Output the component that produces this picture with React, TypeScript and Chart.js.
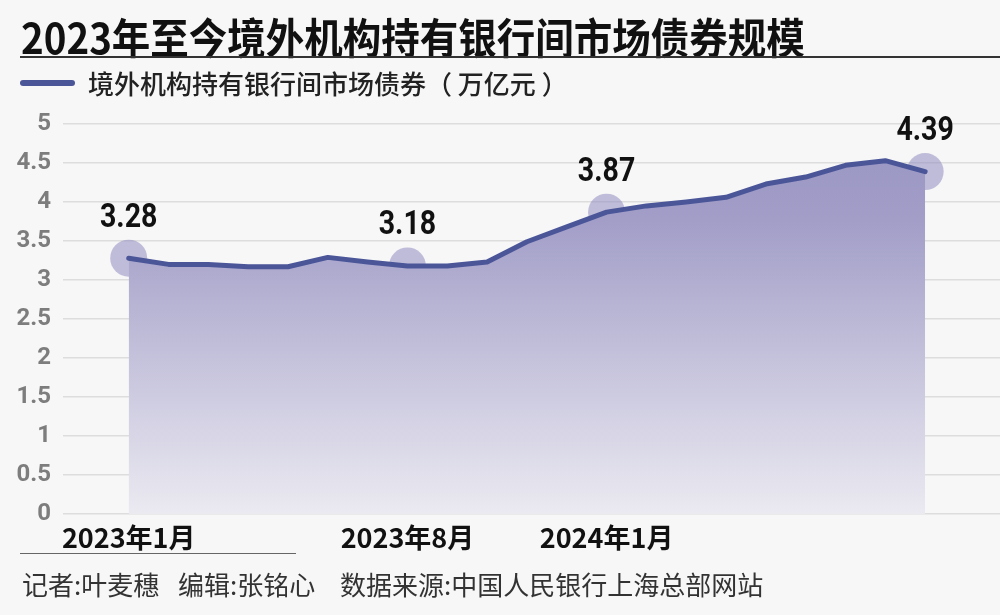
import React, { useEffect, useRef } from "react";
import { Chart, registerables } from "chart.js";

Chart.register(...registerables);

const months: string[] = [
  "2023年1月", "2023年2月", "2023年3月", "2023年4月", "2023年5月", "2023年6月",
  "2023年7月", "2023年8月", "2023年9月", "2023年10月", "2023年11月", "2023年12月",
  "2024年1月", "2024年2月", "2024年3月", "2024年4月", "2024年5月", "2024年6月",
  "2024年7月", "2024年8月", "2024年9月",
];
const holdings: number[] = [
  3.28, 3.2, 3.2, 3.17, 3.17, 3.29, 3.23, 3.18, 3.18, 3.23, 3.49, 3.68,
  3.87, 3.95, 4.0, 4.06, 4.23, 4.32, 4.47, 4.53, 4.39,
];
const tickIndices: number[] = [0, 7, 12];
const highlightIndices: number[] = [0, 7, 12, 20];
const yTicks: number[] = [0, 0.5, 1, 1.5, 2, 2.5, 3, 3.5, 4, 4.5, 5];

const TITLE = "2023年至今境外机构持有银行间市场债券规模";
const SERIES = "境外机构持有银行间市场债券";
const CJK = '"Noto Sans CJK SC", "Noto Sans", sans-serif';
const NUM = 'Roboto, "Noto Sans", sans-serif';

export default function App() {
  const ref = useRef<HTMLCanvasElement | null>(null);

  useEffect(() => {
    if (!ref.current) return;
    const labelPlugin = {
      id: "valueLabels",
      afterDatasetsDraw(chart: any) {
        const ctx = chart.ctx;
        const meta = chart.getDatasetMeta(1);
        highlightIndices.forEach((idx) => {
          const pt = meta.data[idx];
          if (!pt) return;
          ctx.save();
          ctx.translate(pt.x, pt.y - 40);
          ctx.scale(0.84, 1);
          ctx.font = `bold 34px ${NUM}`;
          ctx.fillStyle = "#111";
          ctx.textAlign = "center";
          ctx.textBaseline = "middle";
          ctx.fillText(holdings[idx].toFixed(2), 0, 0);
          ctx.restore();
        });
      },
    };

    const chart = new Chart(ref.current, {
      type: "line",
      data: {
        datasets: [
          {
            label: "highlight",
            data: highlightIndices.map((i) => ({ x: i, y: holdings[i] })),
            showLine: false,
            pointRadius: 18.5,
            pointHoverRadius: 18.5,
            pointBackgroundColor: "rgba(140,135,190,0.52)",
            pointBorderWidth: 0,
            order: 2,
          },
          {
            label: SERIES,
            data: holdings.map((v, i) => ({ x: i, y: v })),
            borderColor: "#4b5699",
            borderWidth: 5,
            borderCapStyle: "round",
            borderJoinStyle: "round",
            pointRadius: 0,
            tension: 0,
            fill: "origin",
            backgroundColor: (c: any) => {
              const area = c.chart.chartArea;
              if (!area) return "rgba(160,156,198,0.6)";
              const g = c.chart.ctx.createLinearGradient(0, area.top, 0, area.bottom);
              g.addColorStop(0, "#9995c3");
              g.addColorStop(0.25, "#a29ec8");
              g.addColorStop(1, "#ebeaf1");
              return g;
            },
            order: 1,
          },
        ],
      },
      options: {
        responsive: false,
        animation: false,
        layout: { autoPadding: false, padding: { left: 0, right: 0, top: 124, bottom: 56 } },
        plugins: { legend: { display: false }, tooltip: { enabled: false }, title: { display: false } },
        scales: {
          x: {
            type: "linear",
            min: -1.65,
            max: 21.88,
            grid: { display: false },
            border: { display: false },
            afterBuildTicks: (scale: any) => {
              scale.ticks = tickIndices.map((v) => ({ value: v }));
            },
            afterFit: (scale: any) => {
              scale.height = 45;
            },
            ticks: {
              autoSkip: false,
              maxRotation: 0,
              padding: 0,
              color: "#111",
              font: { family: CJK, size: 27, weight: "bold" },
              callback: (v: any) => months[Math.round(Number(v))] ?? "",
            },
          },
          y: {
            min: 0,
            max: 5,
            afterBuildTicks: (scale: any) => {
              scale.ticks = yTicks.map((v) => ({ value: v }));
            },
            afterFit: (scale: any) => {
              scale.width = 63;
            },
            grid: { color: "#dddddd", lineWidth: 1.5, drawTicks: false },
            border: { display: false },
            ticks: {
              padding: 12,
              color: "#7d7d7d",
              font: { family: NUM, size: 24, weight: "bold" },
              callback: (v: any) => String(v),
            },
          },
        },
      },
      plugins: [labelPlugin],
    } as any);
    return () => chart.destroy();
  }, []);

  return (
    <div
      style={{
        position: "fixed",
        left: 0,
        top: 0,
        width: 1000,
        height: 615,
        background: "#f7f7f7",
        overflow: "hidden",
        fontFamily: CJK,
      }}
    >
      <canvas ref={ref} width={1000} height={615} style={{ position: "absolute", left: 0, top: 0, width: 1000, height: 615 }} />
      <div
        style={{
          position: "absolute",
          left: 21,
          top: 13,
          fontSize: 38.5,
          fontWeight: 700,
          color: "#111",
          lineHeight: "44px",
          whiteSpace: "nowrap",
          transform: "scaleY(1.1)",
          transformOrigin: "left center",
        }}
      >
        {TITLE}
      </div>
      <div style={{ position: "absolute", left: 20, top: 56, width: 980, height: 2, background: "#333" }} />
      <div style={{ position: "absolute", left: 20, top: 80, width: 55, height: 6, borderRadius: 3, background: "#4b5699" }} />
      <div
        style={{
          position: "absolute",
          left: 88,
          top: 66,
          fontSize: 26,
          fontWeight: 500,
          color: "#222",
          lineHeight: "34px",
          whiteSpace: "nowrap",
        }}
      >
        {SERIES}（ 万亿元 ）
      </div>
      <div style={{ position: "absolute", left: 20, top: 553, width: 276, height: 1, background: "#666" }} />
      <div style={{ position: "absolute", left: 22, top: 568, fontSize: 26, color: "#333", lineHeight: "32px", whiteSpace: "nowrap" }}>
        记者:叶麦穗
      </div>
      <div style={{ position: "absolute", left: 178, top: 568, fontSize: 26, color: "#333", lineHeight: "32px", whiteSpace: "nowrap" }}>
        编辑:张铭心
      </div>
      <div style={{ position: "absolute", left: 340, top: 568, fontSize: 26, color: "#333", lineHeight: "32px", whiteSpace: "nowrap" }}>
        数据来源:中国人民银行上海总部网站
      </div>
    </div>
  );
}
